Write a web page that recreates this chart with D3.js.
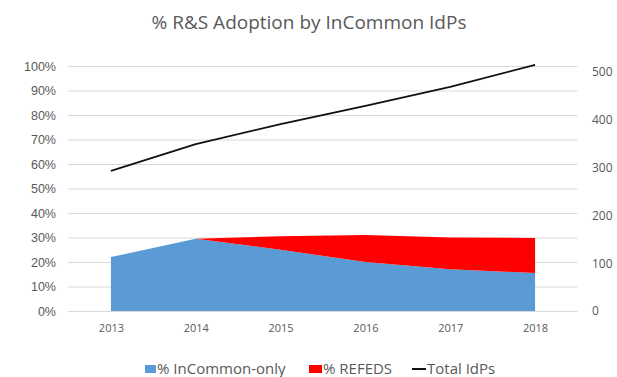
<!DOCTYPE html>
<html>
<head>
<meta charset="utf-8">
<script src="https://cdn.jsdelivr.net/npm/d3@7"></script>
<style>
  body { margin: 0; background: #fff; }
  svg { display: block; }
</style>
</head>
<body>
<div id="chart"></div>
<script>
const years = ["2013", "2014", "2015", "2016", "2017", "2018"];
const inCommonOnly = [22, 29.5, 25, 20, 17, 15.5];
const refeds = [0, 0, 5.5, 11, 13, 14.3];
const totalIdPs = [293, 349, 391, 429, 469, 515];
const pctTicks = [0, 10, 20, 30, 40, 50, 60, 70, 80, 90, 100];
const countTicks = [0, 100, 200, 300, 400, 500];

const width = 617, height = 377;
const plot = {left: 68.5, right: 577.5, top: 66, bottom: 311};

const svg = d3.select("#chart")
  .append("svg")
    .attr("width", width)
    .attr("height", height);

const x = d3.scalePoint()
  .domain(years)
  .range([plot.left, plot.right])
  .padding(0.5);

const y = d3.scaleLinear()
  .domain([0, 100])
  .range([plot.bottom, plot.top]);

const y2 = d3.scaleLinear()
  .domain([0, 512.5])
  .range([plot.bottom, plot.top]);

// gridlines
svg.append("g")
  .selectAll("line")
  .data(pctTicks)
  .join("line")
    .attr("x1", plot.left)
    .attr("x2", plot.right)
    .attr("y1", d => y(d) + 0.5)
    .attr("y2", d => y(d) + 0.5)
    .attr("stroke", "#d9d9d9")
    .attr("stroke-width", 1);

const rows = years.map((yr, i) => ({year: yr, a: inCommonOnly[i], b: refeds[i]}));
const stacked = d3.stack().keys(["a", "b"])(rows);
const colors = {a: "#5b9bd5", b: "#ff0000"};

const area = d3.area()
  .x(d => x(d.data.year))
  .y0(d => y(d[0]))
  .y1(d => y(d[1]));

svg.append("g")
  .selectAll("path")
  .data(stacked)
  .join("path")
    .attr("fill", d => colors[d.key])
    .attr("d", area);

// total IdPs line on secondary axis
svg.append("path")
  .datum(totalIdPs)
  .attr("fill", "none")
  .attr("stroke", "#111")
  .attr("stroke-width", 1.8)
  .attr("stroke-linejoin", "round")
  .attr("d", d3.line()
    .x((d, i) => x(years[i]))
    .y(d => y2(d)));

// left axis
const yAxis = svg.append("g")
  .attr("transform", "translate(56,0)")
  .call(d3.axisLeft(y).tickValues(pctTicks).tickSize(0).tickPadding(0).tickFormat(d => d + "%"));
yAxis.select(".domain").remove();
yAxis.selectAll("text")
  .attr("fill", "#595959")
  .style("font-family", "Liberation Sans, Arial, sans-serif")
  .style("font-size", "12.5px");

// right axis
const y2Axis = svg.append("g")
  .attr("transform", "translate(592,0)")
  .call(d3.axisRight(y2).tickValues(countTicks).tickSize(0).tickPadding(0));
y2Axis.select(".domain").remove();
y2Axis.selectAll("text")
  .attr("fill", "#595959")
  .style("font-family", "Open Sans, sans-serif")
  .style("font-size", "12px");

// bottom axis
const xAxis = svg.append("g")
  .attr("transform", `translate(0,${plot.bottom})`)
  .call(d3.axisBottom(x).tickSize(0).tickPadding(13));
xAxis.select(".domain").remove();
xAxis.selectAll("text")
  .attr("fill", "#595959")
  .style("font-family", "Open Sans, sans-serif")
  .style("font-size", "11px");

// title
svg.append("text")
  .attr("x", 309)
  .attr("y", 29)
  .attr("text-anchor", "middle")
  .attr("fill", "#595959")
  .style("font-family", "Open Sans, sans-serif")
  .style("font-size", "19px")
  .text("% R&S Adoption by InCommon IdPs");

// legend
const legend = svg.append("g")
  .style("font-family", "Open Sans, sans-serif")
  .style("font-size", "15px")
  .attr("fill", "#595959");

legend.append("rect").attr("x", 145).attr("y", 365).attr("width", 11).attr("height", 8).attr("fill", colors.a);
legend.append("text").attr("x", 157).attr("y", 374).text("% InCommon-only");
legend.append("rect").attr("x", 309).attr("y", 365).attr("width", 13).attr("height", 8).attr("fill", colors.b);
legend.append("text").attr("x", 323).attr("y", 374).text("% REFEDS");
legend.append("line").attr("x1", 412).attr("x2", 426).attr("y1", 369).attr("y2", 369).attr("stroke", "#111").attr("stroke-width", 2);
legend.append("text").attr("x", 427).attr("y", 374).text("Total IdPs");
</script>
</body>
</html>
